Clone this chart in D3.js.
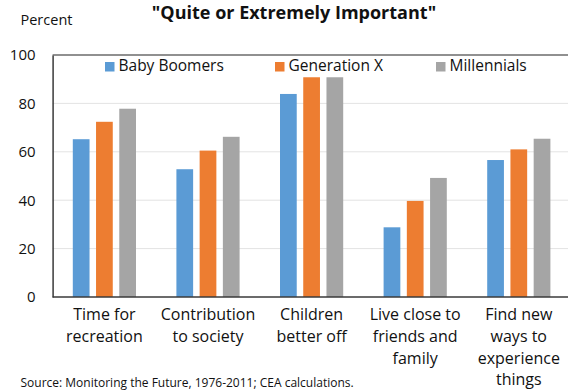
<!DOCTYPE html>
<html>
<head>
<meta charset="utf-8">
<script src="https://cdn.jsdelivr.net/npm/d3@7"></script>
<style>
  html, body { margin: 0; padding: 0; background: #fff; }
  svg { display: block; font-family: "Open Sans", Lato, sans-serif; }
</style>
</head>
<body>
<svg id="chart" width="568" height="390"></svg>
<script>
// Share of each generation rating a goal "quite or extremely important"
const categories = [
  ["Time for", "recreation"],
  ["Contribution", "to society"],
  ["Children", "better off"],
  ["Live close to", "friends and", "family"],
  ["Find new", "ways to", "experience", "things"]
];
const seriesNames = ["Baby Boomers", "Generation X", "Millennials"];
const babyBoomers = [65.2, 52.8, 83.9, 28.8, 56.6];
const generationX = [72.4, 60.5, 90.8, 39.7, 61.0];
const millennials = [77.8, 66.2, 90.8, 49.2, 65.4];
const yTicks = [0, 20, 40, 60, 80, 100];
const colors = ["#5b9bd5", "#ed7d31", "#a5a5a5"];

const series = [babyBoomers, generationX, millennials];

const svg = d3.select("#chart");
const plot = { left: 52.6, right: 570.6, top: 55, bottom: 297 };

const x0 = d3.scaleBand()
  .domain(d3.range(categories.length))
  .range([plot.left, plot.right])
  .paddingInner(0.39)
  .paddingOuter(0.195);

const x1 = d3.scaleBand()
  .domain(d3.range(series.length))
  .range([0, x0.bandwidth()])
  .paddingInner(0.28);

const y = d3.scaleLinear().domain([0, 100]).range([plot.bottom, plot.top]);

// Gridlines
svg.append("g")
  .selectAll("line")
  .data(yTicks.filter(t => t > 0 && t < 100))
  .join("line")
  .attr("x1", plot.left).attr("x2", plot.right)
  .attr("y1", d => y(d)).attr("y2", d => y(d))
  .attr("stroke", "#e3e3e3").attr("stroke-width", 1);

// Bars
const groups = svg.append("g")
  .selectAll("g")
  .data(categories.map((c, i) => i))
  .join("g")
  .attr("transform", i => `translate(${x0(i)},0)`);

groups.selectAll("rect")
  .data(i => series.map((s, k) => ({ k, v: s[i] })))
  .join("rect")
  .attr("x", d => x1(d.k))
  .attr("width", x1.bandwidth())
  .attr("y", d => y(d.v))
  .attr("height", d => y(0) - y(d.v))
  .attr("fill", d => colors[d.k]);

// Frame: top border, left axis, bottom axis
svg.append("line")
  .attr("x1", plot.left).attr("x2", plot.right)
  .attr("y1", y(100)).attr("y2", y(100))
  .attr("stroke", "#6b6b6b").attr("stroke-width", 1.3);

const yAxis = d3.axisLeft(y).tickValues(yTicks).tickSize(0).tickPadding(17);
const yg = svg.append("g")
  .attr("transform", `translate(${plot.left},0)`)
  .call(yAxis);
yg.select(".domain").attr("stroke", "#3a3a3a").attr("stroke-width", 1.5);
yg.selectAll("text")
  .attr("font-size", 15).attr("fill", "#111")
  .style("font-family", "'Open Sans', sans-serif");

svg.append("line")
  .attr("x1", plot.left).attr("x2", plot.right)
  .attr("y1", y(0)).attr("y2", y(0))
  .attr("stroke", "#3a3a3a").attr("stroke-width", 1.5);

// Category labels
const lab = svg.append("g")
  .selectAll("text")
  .data(categories)
  .join("text")
  .attr("text-anchor", "middle")
  .attr("font-size", 16)
  .attr("fill", "#111")
  .attr("x", (d, i) => x0(i) + x0.bandwidth() / 2)
  .attr("y", 320);
lab.selectAll("tspan")
  .data(d => d)
  .join("tspan")
  .attr("x", function () { return this.parentNode.getAttribute("x"); })
  .attr("dy", (d, j) => j === 0 ? 0 : 21.8)
  .text(d => d);

// Legend
const legendX = [105, 275, 436];
const leg = svg.append("g")
  .selectAll("g")
  .data(seriesNames)
  .join("g")
  .attr("transform", (d, i) => `translate(${legendX[i]},62)`);
leg.append("rect").attr("width", 9.5).attr("height", 9.5)
  .attr("fill", (d, i) => colors[i]);
leg.append("text")
  .attr("x", 13.5).attr("y", 9)
  .attr("font-size", 15.5).attr("fill", "#111")
  .text(d => d);

// Title, unit label, source
svg.append("text")
  .attr("x", 294).attr("y", 18.5)
  .attr("text-anchor", "middle")
  .attr("font-size", 18).attr("font-weight", "bold").attr("fill", "#111")
  .text("\"Quite or Extremely Important\"");

svg.append("text")
  .attr("x", 20.5).attr("y", 25)
  .attr("font-size", 14.5).attr("fill", "#111")
  .text("Percent");

svg.append("text")
  .attr("x", 20.5).attr("y", 387)
  .attr("font-size", 12).attr("fill", "#111")
  .text("Source: Monitoring the Future, 1976-2011; CEA calculations.");
</script>
</body>
</html>
